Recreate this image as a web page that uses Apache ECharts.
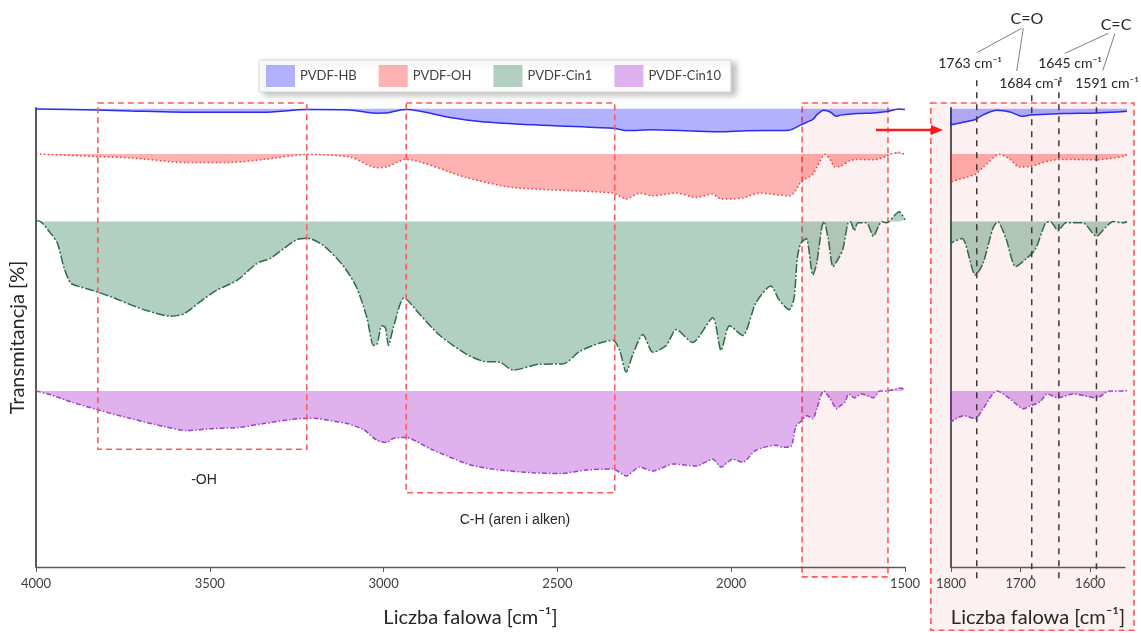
<!DOCTYPE html>
<html>
<head>
<meta charset="utf-8">
<script src="https://cdn.jsdelivr.net/npm/echarts@6/dist/echarts.min.js"></script>
<style>
html,body{margin:0;padding:0;background:#fff;}
#chart{width:1141px;height:633px;}
</style>
</head>
<body>
<div id="chart"></div>
<script>
// ---- data: [wavenumber cm^-1, transmittance (offset, arbitrary units)] ----
const seriesNames = ['PVDF-HB', 'PVDF-OH', 'PVDF-Cin1', 'PVDF-Cin10'];
const baselines = [115.8, 104.4, 87.3, 44.45];

const PVDF_HB = [
  [4000,115.75],[3823,115.5],[3727,115.25],[3536,114.9],[3346,114.9],[3220,115.6],[3096,115.5],
  [3024,114.7],[2987,114.8],[2952,115.5],[2933,115.6],[2809,113.6],[2723,112.6],[2571,111.75],
  [2341,110.9],[2302,110.3],[2226,110.5],[2034,110],[1957,110.25],[1833,110.4],[1800,111.75],
  [1765,113.1],[1754,114.25],[1734,115.4],[1715,115],[1698,113.9],[1686,114.2],[1639,114.6],
  [1591,114.75],[1552,115.1],[1517,115.75],[1500,115.6]
];
const PVDF_OH = [
  [4000,104.4],[3823,103.75],[3727,103.4],[3565,102.2],[3440,102.25],[3345,103],[3220,104.25],
  [3096,103.6],[3019,100.9],[2986,101.25],[2938,103],[2761,98.4],[2628,95.9],[2341,94.5],[2302,93],
  [2264,94.5],[2226,93.8],[2158,94.5],[2101,93.4],[2054,94.25],[2029,93],[1967,93.25],[1919,94.5],
  [1833,93.8],[1815,95],[1800,97.25],[1765,99.25],[1754,101],[1730,104.3],[1715,103],[1702,101.1],
  [1686,101.25],[1657,102.75],[1639,103],[1591,102.9],[1552,103.8],[1546,104.25],[1517,104.8],[1500,104.25]
];
const PVDF_Cin1 = [
  [4000,87.6],[3986,87.25],[3957,84.25],[3938,81.75],[3919,75.5],[3900,71.75],[3871,70.75],[3823,69.5],
  [3775,68],[3727,66.25],[3679,64.75],[3613,63.4],[3574,64],[3517,67.75],[3479,70],[3421,72.5],
  [3364,76.75],[3326,78],[3287,80.5],[3249,82.75],[3220,83.1],[3173,81.25],[3115,76],[3077,70.5],
  [3048,63],[3029,56],[3019,56.25],[3005,61],[2995,60.5],[2986,56],[2972,60.5],[2941,68],[2895,63.75],
  [2838,58.5],[2761,53.75],[2713,52],[2665,51.75],[2627,49.75],[2551,51.25],[2484,51.3],[2436,54.5],
  [2378,56.6],[2340,57.3],[2321,54.75],[2302,49.25],[2283,53.75],[2254,58.75],[2225,54.25],[2187,56],
  [2158,60],[2111,56.75],[2053,63],[2029,54.75],[2005,61],[1967,58.5],[1929,66.75],[1886,71],[1862,67.5],
  [1833,65],[1819,68],[1810,78],[1800,81.75],[1784,83],[1765,73.8],[1754,76.75],[1740,85.5],[1733,87.3],
  [1721,83],[1707,75.9],[1693,77.75],[1679,80.25],[1664,87],[1657,87.25],[1646,85],[1635,87],[1611,87],
  [1591,83.6],[1577,86],[1567,87.3],[1555,87],[1546,87.3],[1517,89.75],[1500,87.75]
];
const PVDF_Cin10 = [
  [4000,44.5],[3957,43.5],[3900,41.75],[3823,39.75],[3727,37.5],[3632,35.5],[3565,34.5],[3488,35],
  [3421,35.25],[3345,36.25],[3268,37.25],[3220,37.6],[3192,37.5],[3105,36.25],[3058,34.75],[3019,32],
  [2991,31.5],[2972,32.5],[2938,32.75],[2863,29.75],[2766,26.25],[2723,25.25],[2665,24.5],[2570,23.8],
  [2493,23.6],[2417,24.5],[2340,24.75],[2302,23],[2264,25.25],[2225,24.25],[2168,26],[2101,25.5],
  [2053,27.25],[2029,25.25],[1996,27.25],[1967,26.5],[1929,29.5],[1871,30.75],[1852,30.25],[1828,30.5],
  [1814,35.5],[1800,36.75],[1782,38.25],[1765,37.5],[1754,40],[1734,44.5],[1715,42.5],[1696,40],
  [1686,40.75],[1672,41.75],[1662,43.75],[1646,42.75],[1625,43.75],[1591,42.75],[1572,44.5],[1552,44.5],
  [1513,45.25],[1500,44.75]
];
const seriesData = [PVDF_HB, PVDF_OH, PVDF_Cin1, PVDF_Cin10];

// axis ticks
const mainTicks = { min: 1500, max: 4000, interval: 500 };
const insetRange = { min: 1550, max: 1800 };
const insetTickValues = [1800, 1700, 1600];

// band annotations (wavenumber from, wavenumber to, top, bottom)
const mainBoxes = [
  [3822, 3221, 117.25, 29.75],
  [2935, 2335, 117.25, 18.75]
];
const mainHighlight = [[1796, 1549, 117.25, -2.5]];
const insetHighlight = [[1829, 1537, 117.25, -16]];
// marked peaks in inset: [wavenumber, top of marker line]
const peakMarks = [[1763, 123], [1684, 119.25], [1645, 123], [1591, 119.25]];

// ---- styles ----
const FONT = 'Lato, "Open Sans", sans-serif';
const lineColors = ['#2b2bf5', '#f03c3c', '#2e6b48', '#9b3fd0'];
const fillColors = ['rgba(0,0,255,0.30)', 'rgba(255,0,0,0.30)', 'rgba(0,100,50,0.30)', 'rgba(150,0,200,0.30)'];
const dashTypes = ['solid', [1.5, 2.5], [9, 2, 2, 2], [5, 2, 1.5, 2]];

const chart = echarts.init(document.getElementById('chart'), null, { renderer: 'canvas' });

function lineSeries(i, gi) {
  return {
    type: 'line', name: seriesNames[i], data: seriesData[i],
    xAxisIndex: gi, yAxisIndex: gi,
    symbol: 'none', showSymbol: false, smooth: 0.25, clip: true, z: 3,
    lineStyle: { color: lineColors[i], width: 1.5, type: dashTypes[i] },
    itemStyle: { color: lineColors[i] },
    areaStyle: { color: fillColors[i], origin: baselines[i], opacity: 1 },
    emphasis: { disabled: true }
  };
}

function boxRender(fill, stroke) {
  return function (params, api) {
    const p0 = api.coord([api.value(0), api.value(2)]);
    const p1 = api.coord([api.value(1), api.value(3)]);
    const x = Math.min(p0[0], p1[0]), y = Math.min(p0[1], p1[1]);
    return {
      type: 'rect',
      shape: { x: x, y: y, width: Math.abs(p1[0] - p0[0]), height: Math.abs(p1[1] - p0[1]) },
      style: { fill: fill, stroke: stroke, lineWidth: 1.6, lineDash: [6, 4] }
    };
  };
}

const series = [];
series.push({ type: 'custom', xAxisIndex: 0, yAxisIndex: 0, clip: false, z: -1, silent: true,
  data: mainHighlight, renderItem: boxRender('rgba(250,205,205,0.30)', '#ff5a5a') });
series.push({ type: 'custom', xAxisIndex: 1, yAxisIndex: 1, clip: false, z: -1, silent: true,
  data: insetHighlight, renderItem: boxRender('rgba(250,205,205,0.30)', '#ff5a5a') });
for (let i = 0; i < 4; i++) series.push(lineSeries(i, 0));
for (let i = 0; i < 4; i++) series.push(lineSeries(i, 1));
series.push({ type: 'custom', xAxisIndex: 0, yAxisIndex: 0, clip: false, z: 6, silent: true,
  data: mainBoxes, renderItem: boxRender('none', '#ff5a5a') });
series.push({ type: 'custom', xAxisIndex: 1, yAxisIndex: 1, clip: false, z: 6, silent: true,
  data: peakMarks,
  renderItem: function (params, api) {
    const top = api.coord([api.value(0), api.value(1)]);
    const bot = api.coord([api.value(0), -3]);
    return { type: 'line', shape: { x1: top[0], y1: top[1], x2: bot[0], y2: bot[1] },
      style: { stroke: '#3a3a3a', lineWidth: 1.5, lineDash: [6, 6] } };
  } });

const axisLabelStyle = { fontSize: 13, color: '#404040', fontFamily: FONT, margin: 10,
  formatter: function (v) { return String(v); } };
const axisLineStyle = { show: true, lineStyle: { color: '#595959', width: 1.3 } };

const option = {
  animation: false,
  backgroundColor: '#ffffff',
  grid: [
    { left: 35, right: 236, top: 108, bottom: 61 },
    { left: 951, right: 16, top: 108, bottom: 61 }
  ],
  legend: {
    left: 259, top: 60, itemWidth: 29, itemHeight: 22, itemGap: 22,
    padding: [5, 10, 5, 7], backgroundColor: '#ffffff',
    borderColor: '#d6d6d6', borderWidth: 1,
    shadowColor: 'rgba(0,0,0,0.25)', shadowBlur: 6, shadowOffsetX: 5, shadowOffsetY: 3,
    selectedMode: false,
    textStyle: { fontSize: 13, color: '#404040', fontFamily: FONT },
    data: seriesNames.map((n, i) => ({ name: n, icon: 'rect', itemStyle: { color: fillColors[i], borderWidth: 0 } }))
  },
  xAxis: [
    { type: 'value', gridIndex: 0, inverse: true, min: mainTicks.min, max: mainTicks.max, interval: mainTicks.interval,
      axisLine: axisLineStyle, axisTick: { show: true, inside: false, length: 5, lineStyle: { color: '#595959' } },
      splitLine: { show: false }, axisLabel: axisLabelStyle,
      name: 'Liczba falowa [cm⁻¹]', nameLocation: 'middle', nameGap: 41,
      nameTextStyle: { fontSize: 20, color: '#262626', fontFamily: FONT } },
    { type: 'value', gridIndex: 1, inverse: true, min: insetRange.min, max: insetRange.max,
      axisLine: axisLineStyle,
      axisTick: { show: true, length: 5, customValues: insetTickValues, lineStyle: { color: '#595959' } },
      splitLine: { show: false },
      axisLabel: Object.assign({ customValues: insetTickValues }, axisLabelStyle),
      name: 'Liczba falowa [cm⁻¹]', nameLocation: 'middle', nameGap: 41,
      nameTextStyle: { fontSize: 20, color: '#262626', fontFamily: FONT } }
  ],
  yAxis: [
    { type: 'value', gridIndex: 0, min: 0, max: 116,
      axisLine: { show: true, lineStyle: { color: '#595959', width: 2 } },
      axisTick: { show: false }, axisLabel: { show: false }, splitLine: { show: false },
      name: 'Transmitancja [%]', nameLocation: 'middle', nameGap: 8, nameRotate: 90,
      nameTextStyle: { fontSize: 20, color: '#262626', fontFamily: FONT } },
    { type: 'value', gridIndex: 1, min: 0, max: 116,
      axisLine: { show: true, lineStyle: { color: '#595959', width: 2 } },
      axisTick: { show: false }, axisLabel: { show: false }, splitLine: { show: false } }
  ],
  graphic: [
    { type: 'text', silent: true,
      style: { text: '-OH', x: 204, y: 480, textAlign: 'center', textVerticalAlign: 'middle',
        font: '14px "Liberation Sans", Arial, sans-serif', fill: '#262626' } },
    { type: 'text', silent: true,
      style: { text: 'C-H (aren i alken)', x: 515, y: 520, textAlign: 'center', textVerticalAlign: 'middle',
        font: '14px "Liberation Sans", Arial, sans-serif', fill: '#262626' } },
    { type: 'line', silent: true, shape: { x1: 876, y1: 130, x2: 933, y2: 130 },
      style: { stroke: '#ff1a1a', lineWidth: 2.5 } },
    { type: 'polygon', silent: true, shape: { points: [[931, 125], [943, 130], [931, 135]] },
      style: { fill: '#ff1a1a' } },
    { type: 'text', silent: true, style: { text: 'C=O', x: 1027, y: 19, textAlign: 'center', textVerticalAlign: 'middle', font: '16px ' + FONT, fill: '#262626' } },
    { type: 'text', silent: true, style: { text: 'C=C', x: 1116, y: 25, textAlign: 'center', textVerticalAlign: 'middle', font: '16px ' + FONT, fill: '#262626' } },
    { type: 'text', silent: true, style: { text: '1763 cm⁻¹', x: 970, y: 63, textAlign: 'center', textVerticalAlign: 'middle', font: '14px ' + FONT, fill: '#262626' } },
    { type: 'text', silent: true, style: { text: '1684 cm⁻¹', x: 1031, y: 83, textAlign: 'center', textVerticalAlign: 'middle', font: '14px ' + FONT, fill: '#262626' } },
    { type: 'text', silent: true, style: { text: '1645 cm⁻¹', x: 1070, y: 63, textAlign: 'center', textVerticalAlign: 'middle', font: '14px ' + FONT, fill: '#262626' } },
    { type: 'text', silent: true, style: { text: '1591 cm⁻¹', x: 1107, y: 83, textAlign: 'center', textVerticalAlign: 'middle', font: '14px ' + FONT, fill: '#262626' } },
    { type: 'line', silent: true, shape: { x1: 1021.7, y1: 28.3, x2: 976.7, y2: 52.7 }, style: { stroke: '#7f7f7f', lineWidth: 1 } },
    { type: 'line', silent: true, shape: { x1: 1023.3, y1: 28.3, x2: 1016.7, y2: 71 }, style: { stroke: '#7f7f7f', lineWidth: 1 } },
    { type: 'line', silent: true, shape: { x1: 1108.3, y1: 33.3, x2: 1065, y2: 53.3 }, style: { stroke: '#7f7f7f', lineWidth: 1 } },
    { type: 'line', silent: true, shape: { x1: 1115, y1: 33.3, x2: 1102.7, y2: 70.7 }, style: { stroke: '#7f7f7f', lineWidth: 1 } }
  ],
  series: series
};
chart.setOption(option);
</script>
</body>
</html>
